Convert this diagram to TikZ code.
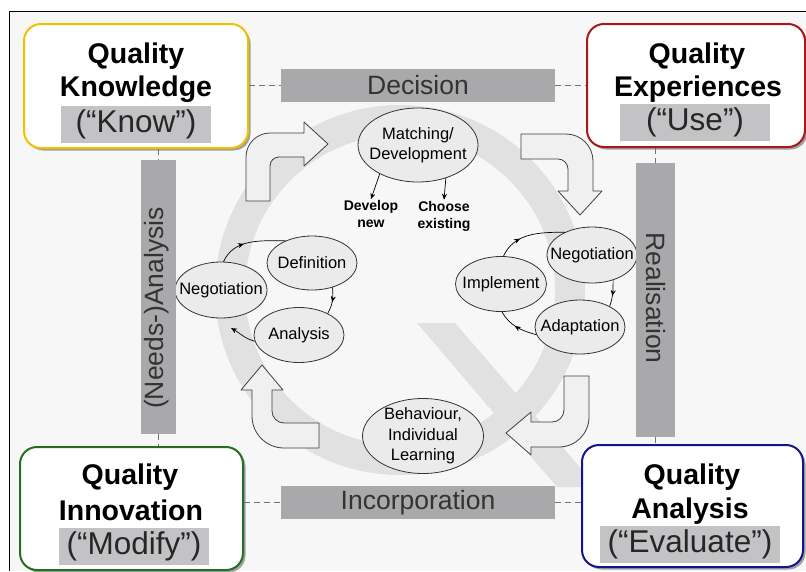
\documentclass[tikz,border=0pt]{standalone}
\usepackage{fontspec}
\setmainfont{Liberation Sans}
\usetikzlibrary{shapes.geometric,arrows.meta,decorations.markings,shadows}
\definecolor{bgc}{HTML}{F7F7F7}
\definecolor{ringc}{HTML}{E1E1E1}
\definecolor{barc}{HTML}{A9A9AB}
\definecolor{lblc}{HTML}{C3C3C6}
\definecolor{ellc}{HTML}{EBEBEB}
\definecolor{blkc}{HTML}{F0F0F0}
\definecolor{yelc}{HTML}{F2C000}
\definecolor{redc}{HTML}{A81818}
\definecolor{grnc}{HTML}{237023}
\definecolor{bluc}{HTML}{14148F}
\begin{document}
\begin{tikzpicture}[x=1pt,y=-1pt,
  qbox/.style={draw=#1, line width=2pt, rounded corners=17pt, fill=white, inner sep=0pt,
    drop shadow={shadow xshift=2.5pt, shadow yshift=-2.5pt, fill=black!60, opacity=0.6}},
  ttl/.style={font=\fontsize{28.5}{34}\selectfont\bfseries, inner sep=0pt, anchor=base},
  lbl/.style={fill=lblc, inner sep=0pt, minimum height=37, font=\fontsize{31.5}{36}\selectfont, text=black!85},
  barbox/.style={fill=barc, inner sep=0pt, font=\fontsize{26.5}{30}\selectfont, text=black!80},
  dashc/.style={draw=black!55, dash pattern=on 6pt off 4pt, line width=1.2pt},
  ell/.style={ellipse, draw=black!80, fill=ellc, line width=0.8pt, inner sep=0pt},
  elltext/.style={font=\fontsize{16.5}{20.5}\selectfont, align=center, inner sep=0pt},
  smalltext/.style={font=\fontsize{14}{17}\selectfont\bfseries, align=center, inner sep=1pt},
  blk/.style={fill=blkc, draw=black!75, line width=0.8pt, line join=round},
  arr/.style={draw=black, line width=0.7pt, -{Stealth[length=6pt,width=5pt]}},
  cyc/.style={draw=black, line width=0.7pt, postaction={decorate},
    decoration={markings, mark=at position #1 with {\arrow{Stealth[length=6pt,width=5pt]}}}}
]
\useasboundingbox (0,0) rectangle (806,571);
\fill[white] (0,0) rectangle (806,571);
\fill[bgc] (9,11) rectangle (806,571);
\draw[black, line width=1pt] (9,571) -- (9,11) -- (806,11);

% Q ring and tail
\fill[ringc, even odd rule] (400,290) circle[radius=185] (400,290) circle[radius=155];
\fill[ringc] (417,323) -- (455,323) -- (597,487) -- (557,487) -- cycle;

% block arrows
\draw[blk] (246,201) -- (246,157) to[out=90,in=180] (270,133) -- (304,133) -- (304,122)
  -- (328,144) -- (304,166) -- (304,157) -- (279,157) to[out=180,in=90] (270,166) -- (270,201) -- cycle;
\draw[blk] (521,134) -- (566,134) to[out=0,in=90] (593,161) -- (593,191) -- (602,191)
  -- (580,215) -- (558,191) -- (568,191) -- (568,169) to[out=90,in=0] (558,159) -- (521,159) -- cycle;
\draw[blk] (564,376) -- (589,376) -- (589,417) to[out=-90,in=0] (559,447) -- (531,447) -- (531,455)
  -- (506,433) -- (531,412) -- (531,422) -- (552,422) to[out=0,in=-90] (564,410) -- cycle;
\draw[blk] (319,448) -- (284,448) to[out=180,in=-90] (252,416) -- (252,390) -- (241,390)
  -- (262,365) -- (283,390) -- (272,390) -- (272,411) to[out=-90,in=180] (284,423) -- (319,423) -- cycle;

% ellipses
\node[ell, minimum width=120, minimum height=74, label={[elltext]center:Matching/\\Development}] (match) at (418,145) {};
\node[ell, minimum width=90, minimum height=54, label={[elltext]center:Definition}] (def) at (312,263) {};
\node[ell, minimum width=92, minimum height=56, label={[elltext]center:Negotiation}] (negL) at (221,290) {};
\node[ell, minimum width=90, minimum height=55, label={[elltext]center:Analysis}] (ana) at (299,335) {};
\node[ell, minimum width=90, minimum height=56, label={[elltext]center:Negotiation}] (negR) at (592,255) {};
\node[ell, minimum width=91, minimum height=55, label={[elltext]center:Implement}] (impl) at (501,284) {};
\node[ell, minimum width=90, minimum height=54, label={[elltext]center:Adaptation}] (adapt) at (580,327) {};
\node[ell, minimum width=121, minimum height=75, label={[elltext]center:Behaviour,\\Individual\\Learning}] (behav) at (423,436) {};

\node[smalltext] (dev) at (371,214) {Develop\\new};
\node[smalltext] (choose) at (444,216) {Choose\\existing};
\draw[arr] (match.-143) -- (dev.north);
\draw[arr] (match.-50) -- (choose.north);

% left cycle
\coordinate (negLin) at (231,328);
\draw[cyc=0.4] (negL.85) to[out=65,in=180] (def.140);
\draw[cyc=0.55] (def.-50) to[out=-85,in=60] (ana.37);
\draw[arr] (ana.188) to[out=165,in=-30] (negLin);

% right cycle
\draw[cyc=0.35] (impl.85) to[out=65,in=180] (negR.140);
\draw[cyc=0.6] (negR.-50) to[out=-90,in=70] (adapt.35);
\draw[cyc=0.55] (adapt.190) to[out=165,in=-60] (impl.-88);

% quality boxes
\node[qbox=yelc, minimum width=224, minimum height=124] (know) at (136,86) {};
\node[qbox=redc, minimum width=218, minimum height=123] (exp) at (696,85.5) {};
\node[qbox=grnc, minimum width=223, minimum height=123] (innov) at (131.5,508.5) {};
\node[qbox=bluc, minimum width=221, minimum height=122] (eval) at (692.5,506) {};

\node[ttl] (knowA) at (136,63) {Quality};
\node[ttl] (knowB) at (136,96) {Knowledge};
\node[lbl, minimum width=150] (knowC) at (136,124.5) {(“Know”)};

\node[ttl] (expA) at (697,63) {Quality};
\node[ttl] (expB) at (698,96) {Experiences};
\node[lbl, minimum width=150] (expC) at (695,122) {(“Use”)};

\node[ttl] (innovA) at (130,484) {Quality};
\node[ttl] (innovB) at (131,520) {Innovation};
\node[lbl, minimum width=150] (innovC) at (134,546.5) {(“Modify”)};

\node[ttl] (evalA) at (692,484) {Quality};
\node[ttl] (evalB) at (690,518) {Analysis};
\node[lbl, minimum width=180] (evalC) at (690,544.5) {(“Evaluate”)};

% bars
\node[barbox, minimum width=274, minimum height=33] (decision) at (418,85.5) {Decision};
\node[barbox, minimum width=274, minimum height=33] (incorp) at (418,502.5) {Incorporation};
\node[barbox, minimum width=35, minimum height=274] (needs) at (158.5,297) {};
\node[barbox, rotate=90] (needsT) at (157,308) {(Needs-)Analysis};
\node[barbox, minimum width=39, minimum height=274] (realis) at (655.5,300) {};
\node[barbox, rotate=-90] (realisT) at (656,298) {Realisation};

% dashed connectors
\draw[dashc] (know.east |- decision.west) -- (decision.west);
\draw[dashc] (decision.east) -- (exp.west |- decision.east);
\draw[dashc] (know.south -| needs.north) -- (needs.north);
\draw[dashc] (needs.south) -- (innov.north -| needs.south);
\draw[dashc] (innov.east |- incorp.west) -- (incorp.west);
\draw[dashc] (incorp.east) -- (eval.west |- incorp.east);
\draw[dashc] (exp.south -| realis.north) -- (realis.north);
\draw[dashc] (realis.south) -- (eval.north -| realis.south);
\end{tikzpicture}
\end{document}
